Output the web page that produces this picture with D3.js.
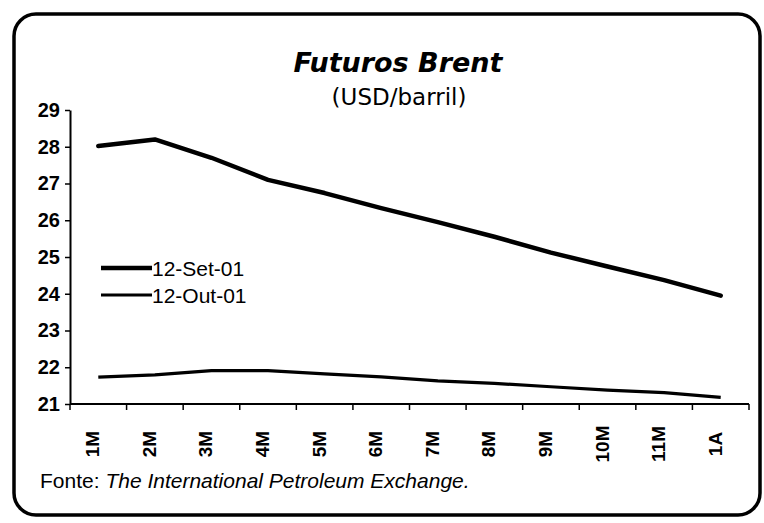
<!DOCTYPE html>
<html>
<head>
<meta charset="utf-8">
<script src="https://cdn.jsdelivr.net/npm/d3@7"></script>
<style>
  body { margin: 0; background: #fff; }
  svg { display: block; }
  .tick text { font-family: "Liberation Sans", Arial, sans-serif; }
</style>
</head>
<body>
<div id="chart"></div>
<script>
var categories = ["1M", "2M", "3M", "4M", "5M", "6M", "7M", "8M", "9M", "10M", "11M", "1A"];
var set01 = [28.02, 28.2, 27.7, 27.1, 26.74, 26.33, 25.95, 25.55, 25.12, 24.74, 24.37, 23.95];
var out01 = [21.73, 21.79, 21.91, 21.91, 21.82, 21.74, 21.63, 21.56, 21.47, 21.38, 21.31, 21.18];
var seriesNames = ["12-Set-01", "12-Out-01"];
var yTicks = [21, 22, 23, 24, 25, 26, 27, 28, 29];

var width = 764, height = 523;
var svg = d3.select("#chart").append("svg")
    .attr("width", width)
    .attr("height", height);

// frame
svg.append("rect")
    .attr("x", 14).attr("y", 14)
    .attr("width", 746).attr("height", 501)
    .attr("rx", 22).attr("ry", 22)
    .attr("fill", "#fff")
    .attr("stroke", "#000")
    .attr("stroke-width", 3.5);

// titles
svg.append("text")
    .attr("x", 398).attr("y", 72)
    .attr("text-anchor", "middle")
    .style("font-family", "'DejaVu Sans', Verdana, sans-serif")
    .style("font-weight", "bold")
    .style("font-style", "italic")
    .style("font-size", "27px")
    .text("Futuros Brent");

svg.append("text")
    .attr("x", 399).attr("y", 105)
    .attr("text-anchor", "middle")
    .style("font-family", "'DejaVu Sans', Verdana, sans-serif")
    .style("font-size", "23px")
    .text("(USD/barril)");

var x = d3.scaleBand()
    .domain(categories)
    .range([70, 749]);

var y = d3.scaleLinear()
    .domain([21, 29])
    .range([404, 110]);

// y axis
var yAxis = svg.append("g")
    .attr("transform", "translate(70,0)")
    .call(d3.axisLeft(y).tickValues(yTicks).tickSize(5).tickSizeOuter(0).tickPadding(5));
yAxis.select(".domain").attr("stroke-width", 2);
yAxis.selectAll(".tick line").attr("stroke-width", 1.5);
yAxis.selectAll(".tick text")
    .style("font-size", "20px")
    .style("font-weight", "bold")
    .attr("fill", "#000");

// x axis: line + ticks at band boundaries
var xAxis = svg.append("g");
xAxis.append("line")
    .attr("x1", x.range()[0]).attr("x2", x.range()[1])
    .attr("y1", y(21)).attr("y2", y(21))
    .attr("stroke", "#000").attr("stroke-width", 2);

var bounds = categories.map(function(c) { return x(c); }).concat([x.range()[1]]);
xAxis.selectAll(".xtick")
    .data(bounds)
    .enter().append("line")
    .attr("class", "xtick")
    .attr("x1", function(d) { return d; }).attr("x2", function(d) { return d; })
    .attr("y1", y(21)).attr("y2", y(21) + 6)
    .attr("stroke", "#000").attr("stroke-width", 1.5);

xAxis.selectAll(".xlabel")
    .data(categories)
    .enter().append("text")
    .attr("class", "xlabel")
    .attr("transform", function(d) {
        return "translate(" + (x(d) + x.bandwidth() / 2 + 1) + "," + 444 + ") rotate(-90)";
    })
    .attr("text-anchor", "middle")
    .style("font-family", "'Liberation Sans', Arial, sans-serif")
    .style("font-weight", "bold")
    .style("font-size", "19px")
    .text(function(d) { return d; });

// lines
var line = d3.line()
    .x(function(d, i) { return x(categories[i]) + x.bandwidth() / 2; })
    .y(function(d) { return y(d); });

svg.append("path")
    .datum(set01)
    .attr("d", line)
    .attr("fill", "none")
    .attr("stroke", "#000")
    .attr("stroke-width", 4.5)
    .attr("stroke-linejoin", "round")
    .attr("stroke-linecap", "round");

svg.append("path")
    .datum(out01)
    .attr("d", line)
    .attr("fill", "none")
    .attr("stroke", "#000")
    .attr("stroke-width", 3.2)
    .attr("stroke-linejoin", "round");

// legend
var legend = svg.append("g").attr("transform", "translate(101,268)");
var legendWidths = [4.5, 3.2];
seriesNames.forEach(function(name, i) {
    var g = legend.append("g").attr("transform", "translate(0," + (i * 27) + ")");
    g.append("line")
        .attr("x1", 0).attr("x2", 51)
        .attr("stroke", "#000")
        .attr("stroke-width", legendWidths[i]);
    g.append("text")
        .attr("x", 51).attr("y", 0)
        .attr("dy", "0.36em")
        .style("font-family", "'Liberation Sans', Arial, sans-serif")
        .style("font-size", "21px")
        .text(name);
});

// source
var src = svg.append("text")
    .attr("x", 40).attr("y", 488)
    .style("font-family", "'Liberation Sans', Arial, sans-serif")
    .style("font-size", "21px");
src.append("tspan").text("Fonte: ");
src.append("tspan").style("font-style", "italic").text("The International Petroleum Exchange.");
</script>
</body>
</html>
